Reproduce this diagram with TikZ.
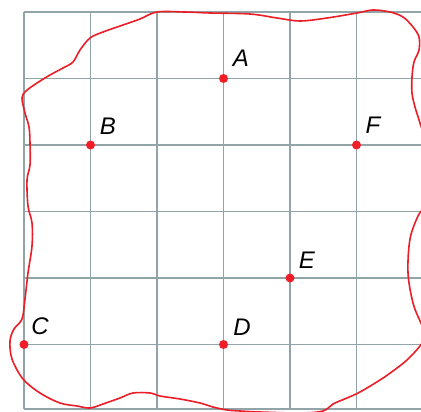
\documentclass[tikz,border=0pt]{standalone}
\usepackage{fontspec}
\setmainfont{Liberation Sans}
\definecolor{gridc}{RGB}{145,165,168}
\definecolor{curvec}{RGB}{235,30,40}
\definecolor{dotc}{RGB}{240,30,40}
\begin{document}
\begin{tikzpicture}[x=1pt,y=-1pt,
  gridline/.style={draw=gridc,line width=1.1pt},
  boundary/.style={draw=curvec,line width=1.6pt,line join=round},
  pt/.style={circle,fill=dotc,inner sep=0pt,minimum size=9pt},
  lbl/.style={inner sep=0pt,font=\fontsize{24}{24}\selectfont\itshape}]
\useasboundingbox (0,0) rectangle (421,412);
\fill[white] (0,0) rectangle (421,412);
\begin{scope}
\clip (0,0) rectangle (421,412);
% grid
\foreach \x in {24,90.5,157,223.5,290,356.5}
  \draw[gridline] (\x,12) -- (\x,409);
\foreach \y in {12,78.5,145,211.5,278,344.5,409}
  \draw[gridline] (24,\y) -- (425,\y);
% boundary
\draw[boundary] plot[smooth cycle,tension=0.55] coordinates {
(157,12) (185,12) (210,13) (250,14) (277,18) (300,21) (327,18) (357,13)
(373,10) (390,12) (403,17) (413,27) (419,37) (419,50) (414,62) (412,77)
(412,93) (415,107) (420,123) (428,150) (430,180) (425,205) (418,216)
(410,239) (408,273) (413,303) (420,321) (426,335) (420,346) (407,360)
(393,371) (380,380) (360,392) (347,398) (333,404) (323,411) (300,413)
(260,412) (240,411) (227,410) (213,407) (200,403) (180,399) (160,396)
(150,393) (133,393) (120,398) (103,404) (90,408) (77,406) (60,403)
(40,393) (23,379) (12,359) (10,341) (14,329) (22,319) (25,299) (28,273)
(32,246) (32,223) (28,206) (27,180) (30,165) (30,143) (29,127) (25,113)
(22,98) (26,91) (37,83) (50,75) (63,68) (73,62) (80,50) (90,38) (103,32)
(123,25) (140,19)};
\end{scope}
% points
\node[pt] (A) at (223.5,78.5) {};
\node[pt] (B) at (90.5,145) {};
\node[pt] (C) at (24,344.5) {};
\node[pt] (D) at (223.5,344.5) {};
\node[pt] (E) at (290,278) {};
\node[pt] (F) at (356.5,145) {};
% labels
\node[lbl] (lA) at (241,58) {A};
\node[lbl] (lB) at (108,126) {B};
\node[lbl] (lC) at (40,326) {C};
\node[lbl] (lD) at (242,327) {D};
\node[lbl] (lE) at (307,260) {E};
\node[lbl] (lF) at (373,125) {F};
\end{tikzpicture}
\end{document}
